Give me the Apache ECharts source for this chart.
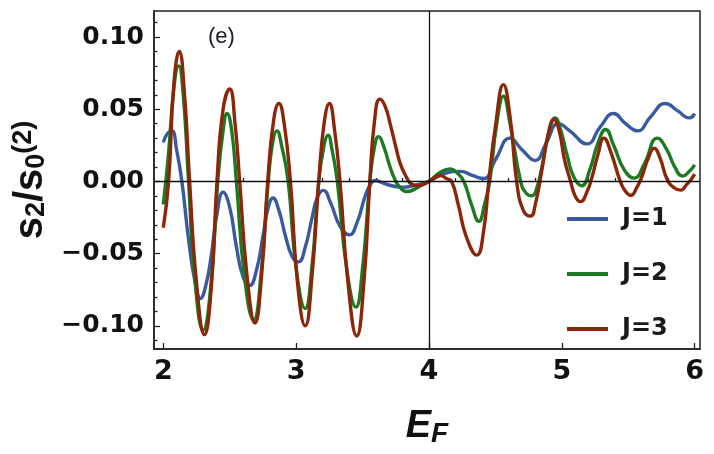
<!DOCTYPE html>
<html>
<head>
<meta charset="utf-8">
<script src="https://cdn.jsdelivr.net/npm/echarts@6/dist/echarts.min.js"></script>
<style>html,body{margin:0;padding:0;background:#fff}#c{width:714px;height:454px}</style>
</head>
<body>
<div id="c"></div>
<script>
// ---- data ----
const seriesNames = ['J=1', 'J=2', 'J=3'];
const j1 = [
  [2.0,0.027],[2.03,0.033],[2.065,0.035],[2.10,0.022],[2.14,0.0],[2.19,-0.04],[2.24,-0.07],[2.28,-0.081],
  [2.32,-0.072],[2.36,-0.052],[2.40,-0.025],[2.45,-0.0074],[2.50,-0.018],[2.55,-0.045],[2.60,-0.066],[2.65,-0.072],
  [2.70,-0.062],[2.75,-0.038],[2.79,-0.018],[2.825,-0.0115],[2.87,-0.02],[2.92,-0.038],[2.97,-0.052],[3.017,-0.0557],
  [3.07,-0.045],[3.12,-0.025],[3.16,-0.011],[3.205,-0.0062],[3.26,-0.015],[3.33,-0.031],[3.40,-0.037],[3.46,-0.028],
  [3.52,-0.01],[3.56,-0.002],[3.594,0.0007],[3.65,-0.001],[3.72,-0.003],[3.807,-0.004],[3.88,-0.003],[4.0,0.0],
  [4.1,0.005],[4.237,0.007],[4.33,0.004],[4.41,0.002],[4.5,0.015],[4.61,0.030],[4.70,0.022],[4.80,0.0145],
  [4.88,0.026],[4.975,0.040],[5.06,0.035],[5.19,0.026],[5.29,0.038],[5.39,0.047],[5.48,0.040],[5.57,0.035],
  [5.67,0.045],[5.78,0.054],[5.87,0.049],[5.96,0.044],[6.0,0.047]
];
const j2 = [
  [2.0,-0.016],[2.04,0.02],[2.08,0.065],[2.115,0.080],[2.15,0.06],[2.19,0.0],[2.24,-0.07],[2.30,-0.103],
  [2.36,-0.07],[2.41,0.0],[2.45,0.035],[2.48,0.047],[2.515,0.035],[2.55,0.0],[2.61,-0.065],[2.68,-0.096],
  [2.74,-0.06],[2.79,0.0],[2.825,0.028],[2.855,0.035],[2.89,0.025],[2.94,0.0],[3.0,-0.06],[3.068,-0.088],
  [3.12,-0.058],[3.17,0.0],[3.21,0.025],[3.24,0.032],[3.27,0.022],[3.31,0.0],[3.38,-0.06],[3.45,-0.087],
  [3.50,-0.06],[3.555,0.0],[3.59,0.024],[3.62,0.031],[3.66,0.024],[3.70,0.012],[3.74,0.002],[3.78,-0.004],
  [3.83,-0.007],[3.90,-0.005],[3.95,-0.002],[4.0,0.0],[4.08,0.006],[4.16,0.0087],[4.21,0.006],[4.262,0.0],
  [4.32,-0.016],[4.375,-0.0276],[4.42,-0.015],[4.457,0.0],[4.51,0.04],[4.56,0.059],[4.61,0.04],[4.69,0.0],
  [4.73,-0.008],[4.775,-0.010],[4.81,-0.005],[4.85,0.01],[4.90,0.033],[4.95,0.044],[4.99,0.036],[5.04,0.018],
  [5.09,0.003],[5.15,-0.003],[5.21,0.008],[5.27,0.026],[5.33,0.036],[5.39,0.025],[5.47,0.008],[5.545,0.0023],
  [5.62,0.012],[5.72,0.030],[5.79,0.022],[5.85,0.01],[5.91,0.0037],[5.96,0.007],[6.0,0.0115]
];
const j3 = [
  [2.0,-0.032],[2.04,0.0],[2.08,0.068],[2.12,0.090],[2.16,0.06],[2.198,0.0],[2.25,-0.07],[2.31,-0.106],
  [2.36,-0.075],[2.404,0.0],[2.45,0.05],[2.50,0.064],[2.54,0.04],[2.575,0.0],[2.63,-0.065],[2.69,-0.098],
  [2.74,-0.065],[2.786,0.0],[2.83,0.042],[2.87,0.054],[2.91,0.04],[2.957,0.0],[3.01,-0.07],[3.068,-0.10],
  [3.12,-0.065],[3.17,0.0],[3.21,0.04],[3.25,0.054],[3.29,0.035],[3.33,0.0],[3.39,-0.07],[3.456,-0.107],
  [3.51,-0.07],[3.555,0.0],[3.59,0.042],[3.63,0.057],[3.67,0.052],[3.71,0.039],[3.75,0.024],[3.785,0.012],
  [3.83,0.003],[3.87,-0.002],[3.92,-0.003],[4.0,0.0],[4.05,0.003],[4.09,0.004],[4.13,0.002],[4.17,0.0],
  [4.22,-0.016],[4.28,-0.038],[4.36,-0.051],[4.41,-0.035],[4.45,0.0],[4.50,0.038],[4.56,0.067],[4.61,0.045],
  [4.66,0.0],[4.71,-0.02],[4.765,-0.024],[4.80,-0.016],[4.85,0.008],[4.90,0.034],[4.94,0.043],[4.98,0.035],
  [5.02,0.015],[5.066,0.0],[5.10,-0.010],[5.14,-0.014],[5.19,-0.007],[5.23,0.004],[5.27,0.018],[5.317,0.030],
  [5.37,0.02],[5.44,0.0],[5.48,-0.007],[5.52,-0.0097],[5.56,-0.005],[5.605,0.004],[5.65,0.016],[5.695,0.023],
  [5.74,0.016],[5.79,0.002],[5.84,-0.004],[5.895,-0.006],[5.94,-0.002],[5.97,0.001],[6.0,0.005]
];
const xTicks = [2, 3, 4, 5, 6];
const xTickLabels = ['2', '3', '4', '5', '6'];
const xMinorTicks = [2.2,2.4,2.6,2.8,3.2,3.4,3.6,3.8,4.2,4.4,4.6,4.8,5.2,5.4,5.6,5.8];
const yTicks = [-0.10, -0.05, 0.0, 0.05, 0.10];
const yTickLabels = ['\u22120.10', '\u22120.05', '0.00', '0.05', '0.10'];
const yMinorTicks = [-0.11,-0.09,-0.08,-0.07,-0.06,-0.04,-0.03,-0.02,-0.01,0.01,0.02,0.03,0.04,0.06,0.07,0.08,0.09,0.11];
const panelLabel = '(e)';

// ---- chart ----
const colors = ['#3a5aa0', '#1d7a22', '#8b2608'];
const X_MIN = 1.93, X_MAX = 6.04, Y_MIN = -0.116, Y_MAX = 0.118;
const axisColor = '#222';
const numFont = 'DejaVu Sans';

function labelFor(vals, labels) {
  return function (v) {
    for (let i = 0; i < vals.length; i++) if (Math.abs(vals[i] - v) < 1e-9) return labels[i];
    return '';
  };
}

const chart = echarts.init(document.getElementById('c'), null, { renderer: 'canvas' });
const seriesData = [j1, j2, j3];
const series = seriesNames.map((n, i) => ({
  name: n, type: 'line', data: seriesData[i], xAxisIndex: 0, yAxisIndex: 0,
  showSymbol: false, symbol: 'none', smooth: 0.5, clip: true,
  lineStyle: { color: colors[i], width: 3.4 }, itemStyle: { color: colors[i] },
  z: 2
}));
series[0].markLine = {
  silent: true, symbol: 'none', animation: false, label: { show: false },
  lineStyle: { color: '#111', width: 1.3, type: 'solid' },
  data: [{ xAxis: 4 }, { yAxis: 0 }], z: 5
};

chart.setOption({
  animation: false,
  backgroundColor: '#fff',
  title: {
    text: panelLabel, left: 203, top: 21,
    textStyle: { fontFamily: 'Liberation Sans', fontSize: 22, fontWeight: 'normal', color: '#1a1a2a' }
  },
  grid: { left: 154, right: 14, top: 11, bottom: 105, show: true, borderColor: axisColor, borderWidth: 1.5, backgroundColor: 'transparent' },
  legend: {
    data: seriesNames, orient: 'vertical', left: 562, top: 202,
    icon: 'rect', itemWidth: 41, itemHeight: 4, itemGap: 31,
    textStyle: { fontFamily: numFont, fontWeight: 'bold', fontSize: 24, lineHeight: 24, color: '#1a1a1a', padding: [0, 0, 0, 9] }
  },
  xAxis: [{
    type: 'value', min: X_MIN, max: X_MAX, position: 'bottom',
    axisLine: { show: true, onZero: false, lineStyle: { color: axisColor, width: 1.5 } },
    axisTick: { show: true, inside: true, length: 6, customValues: xTicks, lineStyle: { color: axisColor, width: 1.3 } },
    axisLabel: { show: true, customValues: xTicks, formatter: labelFor(xTicks, xTickLabels), margin: 9,
      fontFamily: numFont, fontWeight: 'bold', fontSize: 27, color: '#111' },
    splitLine: { show: false },
    name: '{e|E}{f|F}', nameLocation: 'middle', nameGap: 59,
    nameTextStyle: { rich: {
      e: { fontFamily: 'Liberation Sans', fontStyle: 'italic', fontWeight: 'bold', fontSize: 38, color: '#111', verticalAlign: 'top', lineHeight: 40 },
      f: { fontFamily: 'Liberation Sans', fontStyle: 'italic', fontWeight: 'bold', fontSize: 28, color: '#111', verticalAlign: 'bottom', lineHeight: 18 }
    } }
  }, {
    type: 'value', min: X_MIN, max: X_MAX, position: 'bottom',
    axisLine: { show: false },
    axisTick: { show: true, inside: true, length: 3.5, customValues: xMinorTicks, lineStyle: { color: axisColor, width: 1.3 } },
    axisLabel: { show: false }, splitLine: { show: false }
  }],
  yAxis: [{
    type: 'value', min: Y_MIN, max: Y_MAX, position: 'left',
    axisLine: { show: true, onZero: false, lineStyle: { color: axisColor, width: 1.5 } },
    axisTick: { show: true, inside: true, length: 6, customValues: yTicks, lineStyle: { color: axisColor, width: 1.3 } },
    axisLabel: { show: true, customValues: yTicks, formatter: labelFor(yTicks, yTickLabels), margin: 10,
      fontFamily: numFont, fontWeight: 'bold', fontSize: 25, color: '#111' },
    splitLine: { show: false },
    name: '{m|s}{b|2}{m|/s}{b|0}{t|(2)}', nameLocation: 'middle', nameRotate: 90, nameGap: 96,
    nameTextStyle: { rich: {
      m: { fontFamily: 'Liberation Sans', fontWeight: 'bold', fontSize: 40, color: '#111', verticalAlign: 'middle', lineHeight: 40 },
      b: { fontFamily: 'Liberation Sans', fontWeight: 'bold', fontSize: 27, color: '#111', verticalAlign: 'bottom', lineHeight: 20 },
      t: { fontFamily: 'Liberation Sans', fontWeight: 'bold', fontSize: 27, color: '#111', verticalAlign: 'top', lineHeight: 18 }
    } }
  }, {
    type: 'value', min: Y_MIN, max: Y_MAX, position: 'left',
    axisLine: { show: false },
    axisTick: { show: true, inside: true, length: 3.5, customValues: yMinorTicks, lineStyle: { color: axisColor, width: 1.3 } },
    axisLabel: { show: false }, splitLine: { show: false }
  }],
  series: series
});
</script>
</body>
</html>
